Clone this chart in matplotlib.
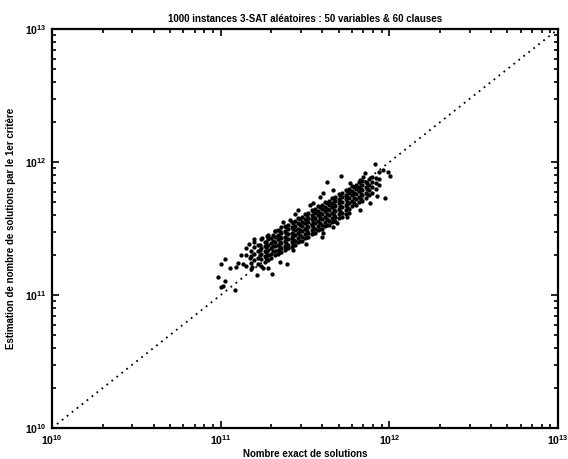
import matplotlib
matplotlib.use('Agg')
import matplotlib.pyplot as plt
from matplotlib.ticker import LogLocator, NullFormatter, FixedLocator

plt.rcParams['font.family'] = ['Liberation Sans', 'DejaVu Sans']
plt.rcParams['mathtext.fontset'] = 'custom'
plt.rcParams['mathtext.rm'] = 'Liberation Sans:bold'
plt.rcParams['mathtext.bf'] = 'Liberation Sans:bold'

# values in units of 1e11 (exact count on x, estimate on y)
# dense band, one entry per column of points
core_x = [1.41, 1.51, 1.58, 1.66, 1.74, 1.82, 1.91, 2.00, 2.09, 2.19,
          2.29, 2.40, 2.51, 2.63, 2.75, 2.88, 3.02, 3.16, 3.31, 3.47,
          3.63, 3.80, 3.98, 4.17, 4.37, 4.57, 4.79, 5.01, 5.25, 5.50,
          5.75, 6.03, 6.31, 6.61, 6.92, 7.24, 7.59, 7.94, 8.32, 8.71]
core_y = [
    [1.66, 2.00, 2.24],
    [1.74, 1.95, 2.14, 1.58],
    [1.82, 2.04, 2.29, 2.51],
    [1.70, 1.91, 2.14, 2.40],
    [1.86, 2.04, 2.24, 2.63, 1.66],
    [1.95, 2.14, 2.34, 2.51, 1.78],
    [2.00, 2.19, 2.40, 2.63, 2.82, 1.82],
    [2.04, 2.24, 2.45, 2.69, 1.91],
    [2.14, 2.34, 2.51, 2.75, 3.02, 2.00],
    [2.19, 2.40, 2.63, 2.82, 3.09, 2.04],
    [2.24, 2.45, 2.69, 2.95, 3.24, 2.09],
    [2.34, 2.57, 2.75, 3.02, 3.31, 2.19],
    [2.40, 2.63, 2.88, 3.16, 3.39, 2.24],
    [2.51, 2.75, 2.95, 3.24, 3.55, 2.29],
    [2.57, 2.82, 3.09, 3.31, 3.63, 2.40],
    [2.69, 2.95, 3.16, 3.47, 3.80, 2.51],
    [2.75, 3.02, 3.31, 3.55, 3.89, 2.57],
    [2.88, 3.16, 3.47, 3.72, 4.07, 2.69],
    [2.95, 3.24, 3.55, 3.80, 4.17, 2.75],
    [3.09, 3.39, 3.72, 3.98, 4.37, 2.88],
    [3.16, 3.47, 3.80, 4.17, 4.47, 2.95],
    [3.31, 3.63, 3.98, 4.27, 4.68, 3.09],
    [3.39, 3.72, 4.07, 4.47, 4.79, 3.16],
    [3.55, 3.89, 4.27, 4.57, 5.01, 3.31],
    [3.63, 3.98, 4.37, 4.79, 5.13, 3.39],
    [3.80, 4.17, 4.57, 4.90, 5.37, 3.55],
    [3.89, 4.27, 4.68, 5.13, 5.50, 3.63],
    [4.07, 4.47, 4.90, 5.25, 5.75, 3.80],
    [4.17, 4.57, 5.01, 5.50, 5.89, 3.89],
    [4.37, 4.79, 5.25, 5.62, 6.17, 4.07],
    [4.47, 4.90, 5.37, 5.89, 6.31, 4.17],
    [4.68, 5.13, 5.62, 6.03, 6.61],
    [4.79, 5.25, 5.75, 6.31, 6.76],
    [5.01, 5.50, 6.03, 6.46, 7.08],
    [5.13, 5.62, 6.17, 6.76, 7.24],
    [5.37, 5.89, 6.46, 7.08],
    [5.62, 6.17, 6.76, 7.41],
    [5.89, 6.46, 7.08, 7.76],
    [6.31, 6.92, 7.59],
    [6.76, 7.41],
]
# in-between columns of the band
mid_x = [1.70, 1.86, 2.04, 2.24, 2.45, 2.69, 2.95, 3.24, 3.55, 3.89,
         4.27, 4.68, 5.13, 5.62, 6.17, 6.76, 7.41]
mid_y = [
    [2.00, 2.19, 2.40],
    [2.09, 2.29, 2.51, 1.91],
    [2.14, 2.34, 2.57, 2.82],
    [2.29, 2.51, 2.75, 3.02, 2.09],
    [2.45, 2.69, 2.95, 3.24, 2.24],
    [2.63, 2.88, 3.16, 3.47, 2.40],
    [2.82, 3.09, 3.39, 3.72, 2.57],
    [3.02, 3.31, 3.63, 3.98, 2.75],
    [3.24, 3.55, 3.89, 4.27, 2.95],
    [3.47, 3.80, 4.17, 4.57, 3.16],
    [3.72, 4.07, 4.47, 4.90, 3.39],
    [3.98, 4.37, 4.79, 5.25, 3.63],
    [4.27, 4.68, 5.13, 5.62],
    [4.57, 5.01, 5.50, 6.03],
    [4.90, 5.37, 5.89, 6.46],
    [5.25, 5.75, 6.31],
    [5.75, 6.31, 6.92],
]
# scattered points around the band
out_x = [1.00, 1.06, 0.96, 1.03, 1.14, 1.23, 1.32, 1.26, 1.36, 1.47,
         1.58, 1.75, 1.89, 2.10, 2.48, 2.01, 1.65, 1.92, 1.49, 1.06,
         1.01, 1.22, 4.25, 5.17, 4.06, 8.22, 8.73, 9.87, 10.1, 9.20,
         9.42, 8.41, 7.17, 6.95, 4.87, 3.97, 3.21, 3.54, 2.89, 2.76,
         2.35, 5.85, 2.58, 3.39, 3.88, 4.66, 6.70, 2.25, 2.70, 4.06,
         4.66, 5.58, 6.70, 7.67, 1.79, 1.53]
out_y = [1.70, 1.87, 1.37, 1.16, 1.59, 1.63, 2.00, 1.73, 1.71, 2.44,
         2.62, 2.67, 2.78, 3.05, 1.70, 1.44, 1.41, 1.61, 1.89, 1.27,
         1.15, 1.09, 7.11, 7.85, 5.88, 9.60, 8.36, 8.36, 7.85, 8.70,
         5.33, 5.55, 8.22, 7.76, 3.46, 2.75, 2.44, 4.89, 4.35, 4.06,
         3.56, 6.92, 3.66, 4.75, 5.48, 6.15, 7.32, 1.78, 2.18, 2.91,
         3.26, 3.88, 4.35, 4.89, 1.59, 1.63]

diag = [1e10, 1e13]
unit = 1e11

xs, ys = [], []
for cols_x, cols_y in [(core_x, core_y), (mid_x, mid_y)]:
    for cx, col in zip(cols_x, cols_y):
        for cy in col:
            xs.append(cx * unit)
            ys.append(cy * unit)
xs += [v * unit for v in out_x]
ys += [v * unit for v in out_y]

fig = plt.figure(figsize=(5.68, 4.59), dpi=100)
ax = fig.add_axes([0.0915, 0.0675, 0.891, 0.869])

ax.plot(diag, diag, color='black', linestyle=(0, (1, 2.5)), linewidth=1.3)
ax.plot(xs, ys, 'o', color='black', markersize=3.1, markeredgewidth=0)

ax.set_xscale('log')
ax.set_yscale('log')
ax.set_xlim(1e10, 1e13)
ax.set_ylim(1e10, 1e13)

ax.xaxis.set_major_locator(FixedLocator([1e10, 1e11, 1e12, 1e13]))
ax.yaxis.set_major_locator(FixedLocator([1e10, 1e11, 1e12, 1e13]))
ax.xaxis.set_minor_locator(LogLocator(base=10, subs=range(2, 10)))
ax.yaxis.set_minor_locator(LogLocator(base=10, subs=range(2, 10)))
ax.xaxis.set_minor_formatter(NullFormatter())
ax.yaxis.set_minor_formatter(NullFormatter())
ax.set_xticklabels([r'$10^{10}$', r'$10^{11}$', r'$10^{12}$', r'$10^{13}$'])
ax.set_yticklabels([r'$10^{10}$', r'$10^{11}$', r'$10^{12}$', r'$10^{13}$'])

ax.tick_params(which='both', direction='in', top=True, right=True,
               width=1.2, labelsize=7.5)
ax.tick_params(which='major', length=5, pad=4)
ax.tick_params(which='minor', length=3)
for s in ax.spines.values():
    s.set_linewidth(1.6)

ax.set_title('1000 instances 3-SAT aléatoires : 50 variables & 60 clauses',
             fontsize=7, fontweight='bold', pad=5)
ax.set_xlabel('Nombre exact de solutions', fontsize=7, fontweight='bold',
              labelpad=1)
ax.set_ylabel('Estimation de nombre de solutions par le 1er critère',
              fontsize=7, fontweight='bold', labelpad=6)

fig.savefig('out.png', dpi=100)
